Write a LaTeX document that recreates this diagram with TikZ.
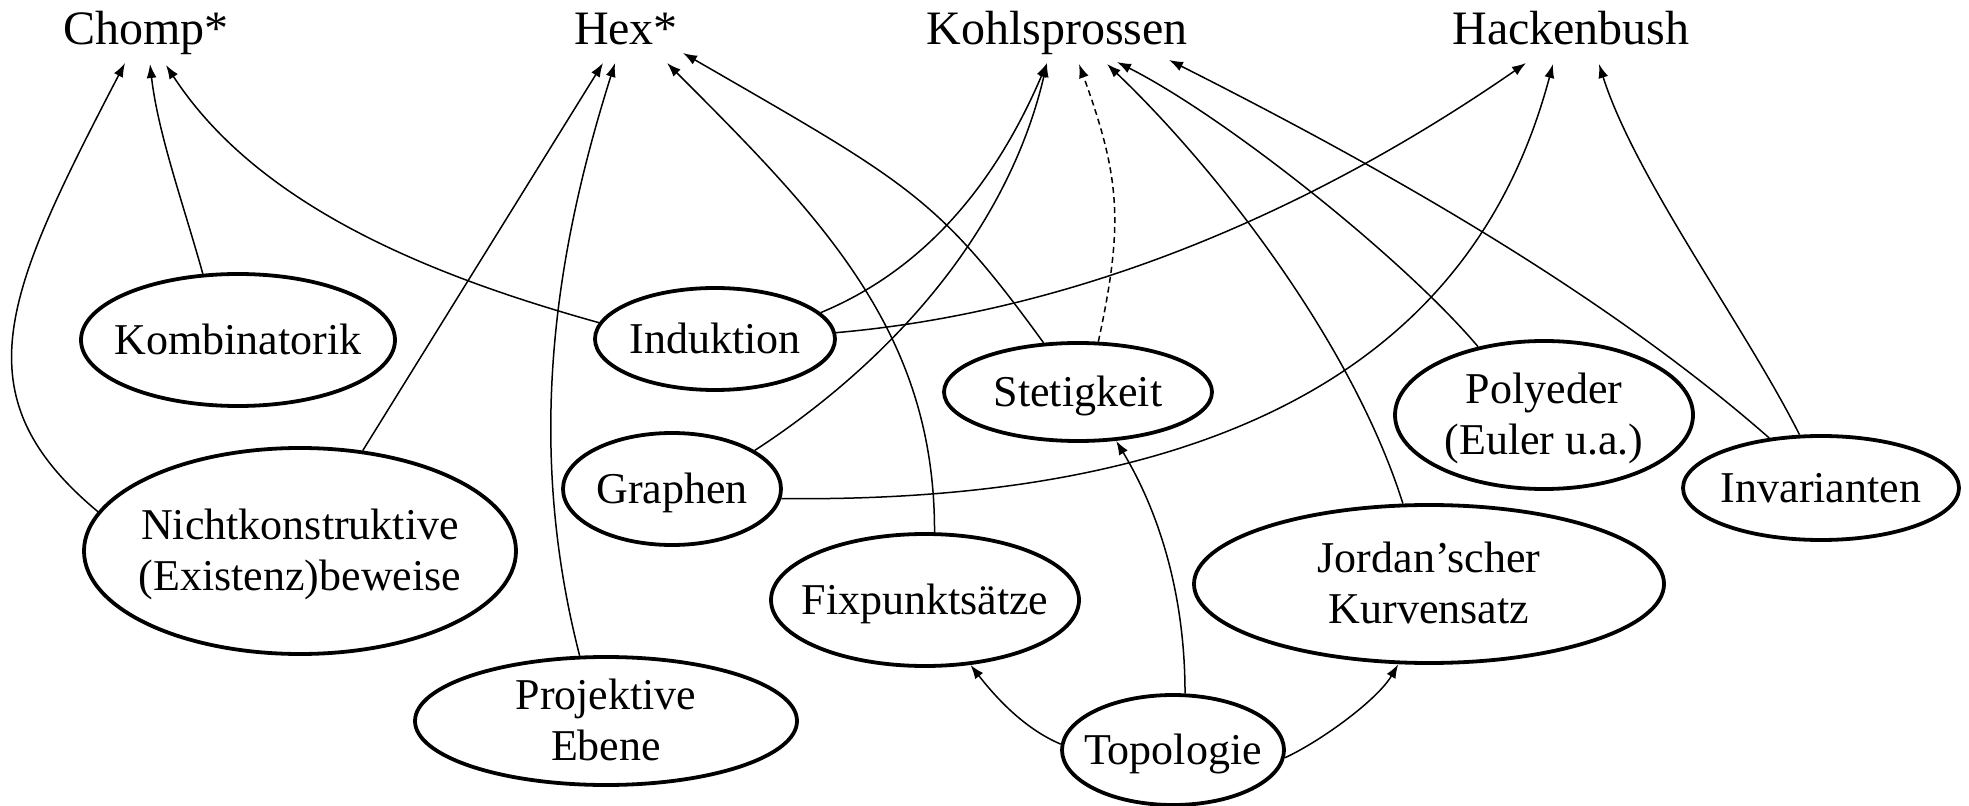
\documentclass[tikz,border=0pt]{standalone}
\usepackage{fontspec}
\setmainfont{Liberation Serif}
\usetikzlibrary{shapes.geometric,arrows.meta,calc}
\newcommand\ztext[1]{\makebox[0pt]{\raisebox{-2pt}[\height][\depth]{\begin{tabular}{@{}c@{}}#1\end{tabular}}}}
\begin{document}
\begin{tikzpicture}[x=0.5pt,y=-0.5pt,
  ell/.style 2 args={draw, ellipse, line width=1.9pt, inner sep=0pt, inner ysep=-4pt,
    minimum width=#1pt, minimum height=#2pt, font=\fontsize{22}{25.5}\selectfont},
  ttl/.style={anchor=base, inner sep=0pt, font=\fontsize{24}{28}\selectfont},
  conn/.style={line width=0.75pt, -{Latex[length=7pt,width=5pt]}},
  dconn/.style={conn, dash pattern=on 3pt off 2pt}]
\useasboundingbox (0,0) rectangle (1969,806);

% titles
\node[ttl] (chomp) at (146,45) {Chomp*};
\node[ttl] (hex) at (626,45) {Hex*};
\node[ttl] (kohl) at (1057,45) {Kohlsprossen};
\node[ttl] (hack) at (1571,45) {Hackenbush};

% topics
\node[ell={157}{66}] (kombi) at (238,340) {\ztext{Kombinatorik}};
\node[ell={120}{51}] (induk) at (715,339) {\ztext{Induktion}};
\node[ell={134}{49}] (stetig) at (1078,392) {\ztext{Stetigkeit}};
\node[ell={149}{74}] (poly) at (1544,415) {\ztext{Polyeder\\(Euler u.a.)}};
\node[ell={138}{52}] (invar) at (1821,488) {\ztext{Invarianten}};
\node[ell={109}{56}] (graph) at (672,489) {\ztext{Graphen}};
\node[ell={216}{103}] (nicht) at (300,551) {\ztext{Nichtkonstruktive\\(Existenz)beweise}};
\node[ell={154}{66}] (fix) at (925,600) {\ztext{Fixpunktsätze}};
\node[ell={235}{79}] (jordan) at (1429,584) {\ztext{Jordan’scher\\Kurvensatz}};
\node[ell={191}{64}] (proj) at (606,721) {\ztext{Projektive\\Ebene}};
\node[ell={111}{55}] (topo) at (1173,750) {\ztext{Topologie}};

% to Chomp*
\draw[conn] (kombi.118) .. controls (184,206) and (158,134) .. ($(chomp.base)+(4,19)$);
\draw[conn] (induk.172) .. controls (435,277) and (259,208) .. ($(chomp.base)+(20,20)$);
\draw[conn] (nicht.169) .. controls (-42,395) and (5,294) .. ($(chomp.base)+(-21,18)$);
% to Hex*
\draw[conn] (nicht.58) -- ($(hex.base)+(-23,18)$);
\draw[conn] (proj.112) .. controls (525,443) and (555,253) .. ($(hex.base)+(-11,18)$);
\draw[conn] (fix.82) .. controls (935,333) and (823,219) .. ($(hex.base)+(41,18)$);
\draw[conn] (stetig.125) .. controls (937,196) and (908,183) .. ($(hex.base)+(57,8)$);
% to Kohlsprossen
\draw[conn] (induk.14) .. controls (933,266) and (1000,173) .. ($(kohl.base)+(-10,18)$);
\draw[conn] (graph.25) .. controls (883,367) and (1006,238) .. ($(kohl.base)+(-10,18)$);
\draw[dconn] (stetig.68) .. controls (1124,223) and (1120,177) .. ($(kohl.base)+(22,19)$);
\draw[conn] (jordan.108) .. controls (1352,342) and (1216,168) .. ($(kohl.base)+(50,19)$);
\draw[conn] (poly.134) .. controls (1401,256) and (1224,116) .. ($(kohl.base)+(60,17)$);
\draw[conn] (invar.136) .. controls (1604,293) and (1383,168) .. ($(kohl.base)+(112,15)$);
% to Hackenbush
\draw[conn] (induk.3) .. controls (1086,311) and (1321,205) .. ($(hack.base)+(-45,18)$);
\draw[conn] (graph.-5) .. controls (1350,505) and (1500,262) .. ($(hack.base)+(-18,19)$);
\draw[conn] (invar.112) .. controls (1746,328) and (1635,178) .. ($(hack.base)+(28,19)$);
% from Topologie
\draw[conn] (topo.177) .. controls (1025,729) and (997,699) .. (fix.-55);
\draw[conn] (topo.78) .. controls (1185,594) and (1159,512) .. (stetig.-52);
\draw[conn] (topo.-4) .. controls (1323,740) and (1378,699) .. (jordan.-111);
\end{tikzpicture}
\end{document}
